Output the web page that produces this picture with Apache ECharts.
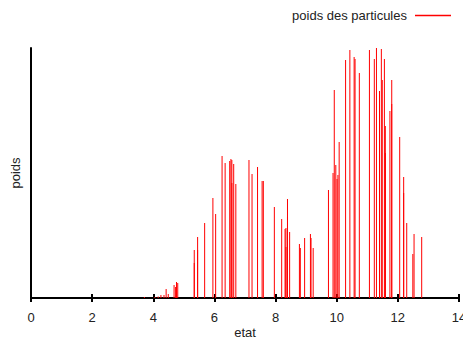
<!DOCTYPE html>
<html>
<head>
<meta charset="utf-8">
<script src="https://cdn.jsdelivr.net/npm/echarts@6/dist/echarts.min.js"></script>
<style>
  html, body { margin: 0; padding: 0; background: #fff; }
  #chart { width: 463px; height: 338px; }
</style>
</head>
<body>
<div id="chart"></div>
<script>
// état de chaque particule (x) et son poids (hauteur de l'impulsion)
const etat = [
  3.71, 4.05, 4.16, 4.25, 4.35, 4.42, 4.49, 4.68, 4.73, 4.76, 4.80,
  5.34, 5.34, 5.45, 5.45, 5.68, 5.95, 6.04, 6.25, 6.35, 6.50, 6.54, 6.57, 6.57, 6.63, 6.70,
  7.13, 7.23, 7.41, 7.56, 7.60, 7.96, 8.20, 8.31, 8.34, 8.34, 8.39, 8.39, 8.46,
  8.78, 8.81, 8.95, 9.14, 9.16, 9.23, 9.73, 9.88, 9.92, 9.97, 10.01, 10.04, 10.08,
  10.29, 10.43, 10.57, 10.60, 10.74, 11.07, 11.23, 11.30, 11.40, 11.46, 11.49, 11.56,
  11.59, 11.59, 11.74, 11.80, 11.80, 12.06, 12.19, 12.19, 12.29, 12.49, 12.53, 12.78
];
const poids = [
  0.004, 0.004, 0.006, 0.012, 0.012, 0.036, 0.016, 0.052, 0.044, 0.064, 0.060,
  0.192, 0.140, 0.244, 0.192, 0.300, 0.400, 0.336, 0.568, 0.540, 0.548, 0.556, 0.552, 0.460, 0.536, 0.456,
  0.552, 0.496, 0.524, 0.468, 0.468, 0.364, 0.316, 0.276, 0.280, 0.204, 0.396, 0.324, 0.264,
  0.216, 0.200, 0.240, 0.256, 0.240, 0.200, 0.432, 0.500, 0.832, 0.532, 0.476, 0.492, 0.624,
  0.952, 0.992, 0.964, 0.956, 0.900, 0.992, 0.956, 1.000, 0.828, 0.996, 0.872, 0.956,
  0.688, 0.580, 0.748, 0.872, 0.776, 0.644, 0.484, 0.420, 0.300, 0.176, 0.256, 0.244
];
const xTicks = [0, 2, 4, 6, 8, 10, 12, 14];

const chart = echarts.init(document.getElementById('chart'), null, { renderer: 'svg' });

const FONT = 'Liberation Sans, Arial, sans-serif';
const axisX = {
  type: 'value', position: 'bottom', min: xTicks[0], max: xTicks[xTicks.length - 1], interval: 2,
  splitLine: { show: false },
  axisLine: { show: true, onZero: false, lineStyle: { color: '#000', width: 2 } },
};

chart.setOption({
  animation: false,
  grid: { left: 31, right: 4, top: 48, bottom: 40, outerBoundsMode: 'none', containLabel: false },
  legend: {
    right: 12, top: 9, align: 'right', padding: 0,
    icon: 'rect', itemWidth: 36, itemHeight: 1.5, itemGap: 0,
    textStyle: { color: '#222', fontSize: 13, fontFamily: FONT, padding: [0, 3, 0, 0] },
    data: ['poids des particules'],
  },
  xAxis: [
    {
      ...axisX,
      name: 'etat', nameLocation: 'middle', nameGap: 28, nameMoveOverlap: false,
      nameTextStyle: { color: '#222', fontSize: 13, fontFamily: FONT, verticalAlign: 'top', lineHeight: 13 },
      axisTick: { show: true, length: 4, lineStyle: { color: '#000', width: 2 } },
      axisLabel: { color: '#222', fontSize: 13, fontFamily: FONT, margin: 13 },
    },
    {
      ...axisX,
      axisTick: { show: true, inside: true, length: 4, lineStyle: { color: '#000', width: 2 } },
      axisLabel: { show: false },
    },
  ],
  yAxis: {
    type: 'value', min: 0, max: 1,
    name: 'poids', nameLocation: 'middle', nameGap: 9, nameRotate: 90,
    nameTextStyle: { color: '#222', fontSize: 13, fontFamily: FONT },
    splitLine: { show: false },
    axisTick: { show: false },
    axisLabel: { show: false },
    axisLine: { show: true, lineStyle: { color: '#000', width: 2 } },
  },
  series: [{
    name: 'poids des particules',
    type: 'custom',
    xAxisIndex: 0,
    itemStyle: { color: '#ff0000' },
    emphasis: { disabled: true },
    data: etat.map((x, i) => [x, poids[i]]),
    renderItem: (params, api) => {
      const top = api.coord([api.value(0), api.value(1)]);
      const base = api.coord([api.value(0), 0]);
      return {
        type: 'line',
        shape: { x1: base[0], y1: base[1], x2: top[0], y2: top[1] },
        style: { stroke: '#ff0000', lineWidth: 1 },
      };
    },
  }],
});
</script>
</body>
</html>
